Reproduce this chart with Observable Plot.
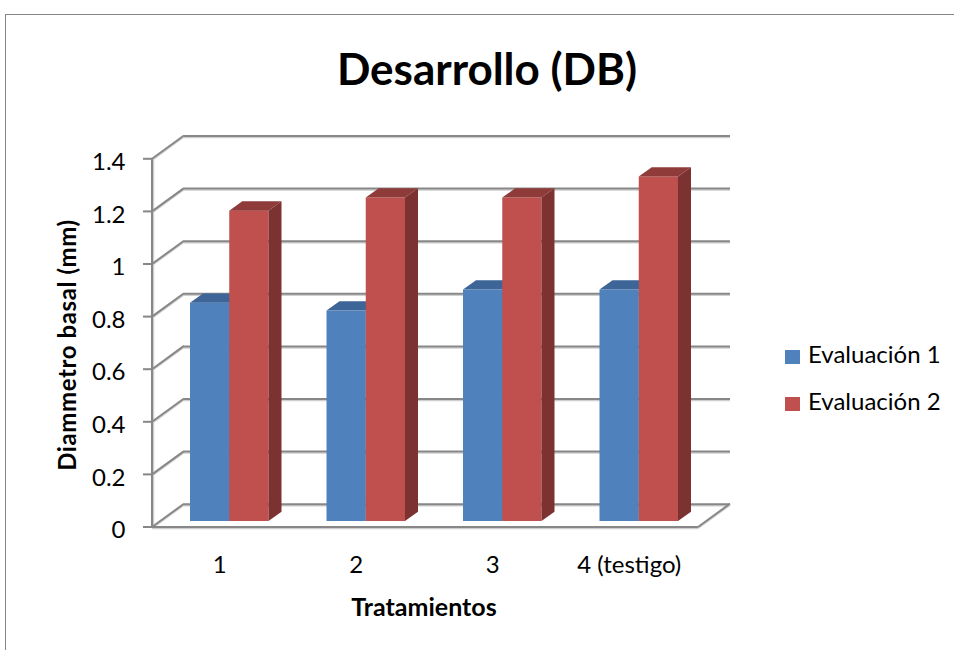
<!DOCTYPE html>
<html>
<head>
<meta charset="utf-8">
<script src="https://cdn.jsdelivr.net/npm/d3@7"></script>
<script src="https://cdn.jsdelivr.net/npm/@observablehq/plot@0.6"></script>
<style>
  html, body { margin: 0; padding: 0; background: #fff; }
  #wrap { position: relative; width: 954px; height: 650px; overflow: hidden; font-family: Lato, "Open Sans", sans-serif; color: #000; }
  #wrap svg { position: absolute; left: 0; top: 0; }
  .frame { position: absolute; left: 5px; top: 14px; width: 1200px; height: 900px; border: 1.5px solid #878787; box-sizing: border-box; }
  .title { position: absolute; left: 287px; width: 400px; top: 42px; text-align: center; font-weight: 700; font-size: 44px; line-height: 52px; }
  .ytitle { position: absolute; left: 66px; top: 345px; transform: translate(-50%, -50%) rotate(-90deg); font-weight: 700; font-size: 24px; letter-spacing: 0.6px; white-space: nowrap; }
  .xtitle { position: absolute; left: 424px; top: 606px; transform: translate(-50%, -50%); font-weight: 700; font-size: 25px; white-space: nowrap; }
  .leg { position: absolute; left: 785px; font-size: 24px; white-space: nowrap; }
  .leg span.sw { display: inline-block; width: 15px; height: 14px; vertical-align: middle; margin-right: 8px; }
</style>
</head>
<body>
<div id="wrap"></div>
<script>
// ---- data ----
const categories = ["1", "2", "3", "4 (testigo)"];
const seriesNames = ["Evaluación 1", "Evaluación 2"];
const evaluacion1 = [0.83, 0.80, 0.88, 0.88];
const evaluacion2 = [1.18, 1.23, 1.23, 1.31];
const yTicks = [0, 0.2, 0.4, 0.6, 0.8, 1, 1.2, 1.4];
const yTickLabels = ["0", "0.2", "0.4", "0.6", "0.8", "1", "1.2", "1.4"];
const titleText = "Desarrollo (DB)";
const yTitle = "Diammetro basal (mm)";
const xTitle = "Tratamientos";

// ---- styles ----
const colors = ["#4F81BD", "#C0504D"];
const topColors = ["#3D6597", "#8E3B39"];
const sideColors = ["#3A5F8E", "#7B3230"];
const gridColor = "#878787";
const shadowColor = "#cfcfcf";

const W = 954, H = 650;
const margin = {top: 152.8, bottom: 129, left: 161, right: 247};
const padIn = 0.425, padOut = 0.2125;
// 3D offsets (pixels)
const backDX = 23, backDY = -17.3;   // back wall relative to bar plane
const frontDX = -9, frontDY = 6;     // front edge relative to bar plane
const barDX = 13, barDY = -9.3;      // bar depth

const table = categories.map((c, i) => ({cat: c, v1: evaluacion1[i], v2: evaluacion2[i]}));
const bwFallback = d3.scaleBand().domain(categories).range([margin.left, W - margin.right])
  .paddingInner(padIn).paddingOuter(padOut).bandwidth();

function faces(series) {
  return (index, scales, values, dimensions) => {
    const x = scales.x, y = scales.y;
    const bw = (x.bandwidth ? x.bandwidth() : bwFallback);
    const half = bw / 2;
    const g = d3.create("svg:g");
    table.forEach(d => {
      const v = series === 0 ? d.v1 : d.v2;
      const xL = x(d.cat) + (series === 0 ? 0 : half);
      const xR = xL + half;
      const yT = y(v), yB = y(0);
      g.append("polygon")
        .attr("points", [[xL, yT], [xR, yT], [xR + barDX, yT + barDY], [xL + barDX, yT + barDY]].map(p => p.join(",")).join(" "))
        .attr("fill", topColors[series]);
      g.append("polygon")
        .attr("points", [[xR, yT], [xR + barDX, yT + barDY], [xR + barDX, yB + barDY], [xR, yB]].map(p => p.join(",")).join(" "))
        .attr("fill", sideColors[series]);
    });
    return g.node();
  };
}

function walls(index, scales, values, dimensions) {
  const y = scales.y;
  const xL = dimensions.marginLeft, xR = dimensions.width - dimensions.marginRight;
  const g = d3.create("svg:g").attr("fill", "none");
  const seg = (x1, y1, x2, y2, c, w) => g.append("line").attr("x1", x1).attr("y1", y1).attr("x2", x2).attr("y2", y2).attr("stroke", c).attr("stroke-width", w);
  // shadows
  yTicks.forEach(t => {
    seg(xL + frontDX, y(t) + frontDY + 1.5, xL + backDX, y(t) + backDY + 1.5, shadowColor, 1.5);
  });
  seg(xL + frontDX, y(0) + frontDY + 1.5, xR + frontDX, y(0) + frontDY + 1.5, shadowColor, 1.5);
  seg(xR + frontDX, y(0) + frontDY + 1.5, xR + backDX, y(0) + backDY + 1.5, shadowColor, 1.5);
  seg(xL + frontDX + 1.5, y(0) + frontDY, xL + frontDX + 1.5, y(yTicks[yTicks.length - 1]) + frontDY, shadowColor, 1.5);
  // left wall diagonals + ticks
  yTicks.forEach(t => {
    seg(xL + frontDX, y(t) + frontDY, xL + backDX, y(t) + backDY, gridColor, 2);
    seg(xL + frontDX - 9, y(t) + frontDY, xL + frontDX, y(t) + frontDY, gridColor, 2);
  });
  // front axis line
  seg(xL + frontDX, y(0) + frontDY, xL + frontDX, y(yTicks[yTicks.length - 1]) + frontDY, gridColor, 2);
  // floor front edge and right diagonal
  seg(xL + frontDX, y(0) + frontDY, xR + frontDX, y(0) + frontDY, gridColor, 2);
  seg(xR + frontDX, y(0) + frontDY, xR + backDX, y(0) + backDY, gridColor, 2);
  return g.node();
}

const plot = Plot.plot({
  width: W, height: H,
  marginTop: margin.top, marginBottom: margin.bottom, marginLeft: margin.left, marginRight: margin.right,
  style: {fontFamily: "Lato, 'Open Sans', sans-serif", fontSize: "24px", color: "#000", background: "transparent", overflow: "visible"},
  x: {type: "band", domain: categories, paddingInner: padIn, paddingOuter: padOut, round: false, axis: null},
  y: {domain: [0, 1.4], axis: null},
  marks: [
    Plot.ruleY(yTicks, {y: d => d, dx: backDX, dy: backDY + 1.5, stroke: shadowColor, strokeWidth: 1.5}),
    Plot.ruleY(yTicks, {y: d => d, dx: backDX, dy: backDY, stroke: gridColor, strokeWidth: 2}),
    walls,
    Plot.barY(table, {x: "cat", y: "v1", fill: colors[0], insetLeft: 0, insetRight: bwFallback / 2}),
    faces(0),
    Plot.barY(table, {x: "cat", y: "v2", fill: colors[1], insetLeft: bwFallback / 2, insetRight: 0}),
    faces(1),
    Plot.text(yTicks, {y: d => d, text: (d, i) => yTickLabels[i], frameAnchor: "left", textAnchor: "end", dx: -36, dy: 9, fill: "#000"}),
    Plot.text(categories, {x: d => d, text: d => d, frameAnchor: "bottom", dx: -10, dy: 51, fill: "#000"})
  ]
});

const wrap = document.getElementById("wrap");
const frame = document.createElement("div"); frame.className = "frame"; wrap.appendChild(frame);
wrap.appendChild(plot);
const t = document.createElement("div"); t.className = "title"; t.textContent = titleText; wrap.appendChild(t);
const yt = document.createElement("div"); yt.className = "ytitle"; yt.textContent = yTitle; wrap.appendChild(yt);
const xt = document.createElement("div"); xt.className = "xtitle"; xt.textContent = xTitle; wrap.appendChild(xt);
seriesNames.forEach((s, i) => {
  const l = document.createElement("div"); l.className = "leg";
  l.style.top = (339 + i * 47) + "px";
  const sw = document.createElement("span"); sw.className = "sw"; sw.style.background = colors[i];
  l.appendChild(sw); l.appendChild(document.createTextNode(s));
  wrap.appendChild(l);
});
</script>
</body>
</html>
